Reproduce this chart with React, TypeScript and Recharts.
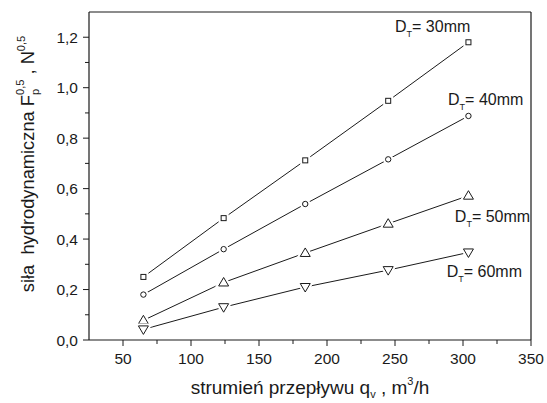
import { LineChart, Line, XAxis, YAxis, ReferenceLine, ReferenceDot, Label } from "recharts";

// strumień przepływu q_v, m3/h
const flow = [65, 124, 184, 245, 304];
// siła hydrodynamiczna F_p^0.5 for each D_T
const d30 = [0.25, 0.483, 0.712, 0.948, 1.18];
const d40 = [0.18, 0.36, 0.539, 0.716, 0.888];
const d50 = [0.078, 0.228, 0.345, 0.461, 0.572];
const d60 = [0.042, 0.13, 0.21, 0.277, 0.347];

const xTicks = [50, 75, 100, 125, 150, 175, 200, 225, 250, 275, 300, 325, 350];
const yTicks = [0, 0.1, 0.2, 0.3, 0.4, 0.5, 0.6, 0.7, 0.8, 0.9, 1.0, 1.1, 1.2];

const labelNames = ["30mm", "40mm", "50mm", "60mm"];
const labelX = [250, 289, 294, 288];
const labelY = [1.22, 0.93, 0.468, 0.25];

const data = flow.map((q, i) => ({ q, d30: d30[i], d40: d40[i], d50: d50[i], d60: d60[i] }));

const FONT = "Liberation Sans, Arial, sans-serif";
const INK = "#1a1a1a";

type Shape = "square" | "circle" | "up" | "down";

function drawShape(shape: Shape, cx: number, cy: number, stroke: string, sw: number) {
  if (shape === "square") return <rect x={cx - 2.5} y={cy - 2.5} width={5} height={5} fill="#fff" stroke={stroke} strokeWidth={sw} />;
  if (shape === "circle") return <circle cx={cx} cy={cy} r={2.7} fill="#fff" stroke={stroke} strokeWidth={sw} />;
  if (shape === "up") return <polygon points={`${cx},${cy - 5} ${cx + 5},${cy + 3.5} ${cx - 5},${cy + 3.5}`} fill="#fff" stroke={stroke} strokeWidth={sw} />;
  return <polygon points={`${cx},${cy + 5} ${cx + 5},${cy - 3.5} ${cx - 5},${cy - 3.5}`} fill="#fff" stroke={stroke} strokeWidth={sw} />;
}

const marker = (shape: Shape) => (p: any) => {
  const { cx, cy, index } = p;
  if (cx == null || cy == null) return <g key={index} />;
  return (
    <g key={`${shape}-${index}`}>
      {drawShape(shape, cx, cy, "#fff", 5)}
      {drawShape(shape, cx, cy, INK, 1)}
    </g>
  );
};

const fmt = (v: number) => v.toFixed(1).replace(".", ",");

const YTick = (p: any) => {
  const { x, y, payload } = p;
  const v = payload.value as number;
  const major = Math.round(v * 10) % 2 === 0;
  const ax = x + 6 + 5;
  return (
    <g>
      <line x1={ax} x2={ax - (major ? 6 : 4)} y1={y} y2={y} stroke={INK} strokeWidth={1} />
      {major && <text x={x} y={y + 5.5} textAnchor="end" fontSize={15.5} fill={INK} fontFamily={FONT}>{fmt(v)}</text>}
    </g>
  );
};

const XTick = (p: any) => {
  const { x, y, payload } = p;
  const v = payload.value as number;
  const major = v % 50 === 0;
  const ay = y - 6 - 5;
  return (
    <g>
      <line x1={x} x2={x} y1={ay} y2={ay + (major ? 6 : 4)} stroke={INK} strokeWidth={1} />
      {major && <text x={x} y={y + 13} textAnchor="middle" fontSize={15.5} fill={INK} fontFamily={FONT}>{v}</text>}
    </g>
  );
};

const YTitle = (p: any) => {
  const vb = p.viewBox;
  const cx = vb.x + 34;
  const cy = vb.y + vb.height / 2 - 12;
  return (
    <text x={cx} y={cy} transform={`rotate(-90 ${cx} ${cy})`} textAnchor="middle" fontSize={18.3} fill={INK} fontFamily={FONT}>
      {"siła\u00a0\u00a0hydrodynamiczna F"}
      <tspan fontSize={11} dy={5}>p</tspan>
      <tspan fontSize={11} dx={-6} dy={-15}>0,5</tspan>
      <tspan dy={10}>{"\u00a0,\u00a0N"}</tspan>
      <tspan fontSize={11} dy={-9}>0,5</tspan>
    </text>
  );
};

const XTitle = (p: any) => {
  const vb = p.viewBox;
  const cx = vb.x + vb.width / 2;
  const y = vb.y + 54;
  return (
    <text x={cx} y={y} textAnchor="middle" fontSize={19} fill={INK} fontFamily={FONT}>
      {"strumień przepływu q"}
      <tspan fontSize={11} dy={4}>v</tspan>
      <tspan dy={-4}>{"\u00a0,\u00a0m"}</tspan>
      <tspan fontSize={11} dy={-9}>3</tspan>
      <tspan dy={9}>/h</tspan>
    </text>
  );
};

const DLabel = (name: string) => (p: any) => {
  const { cx, cy } = p;
  return (
    <text x={cx} y={cy} fontSize={16} fill={INK} fontFamily={FONT}>
      D
      <tspan fontSize={9} dy={5}>T</tspan>
      <tspan dy={-5}>{`= ${name}`}</tspan>
    </text>
  );
};

const series: { key: string; shape: Shape }[] = [
  { key: "d30", shape: "square" },
  { key: "d40", shape: "circle" },
  { key: "d50", shape: "up" },
  { key: "d60", shape: "down" },
];

export default function App() {
  return (
    <div style={{ position: "fixed", left: 0, top: 0, width: 547, height: 403, background: "#fff" }}>
      <LineChart width={547} height={403} data={data} margin={{ top: 12, right: 16, bottom: 0, left: 0 }}>
        <XAxis
          dataKey="q"
          type="number"
          domain={[25, 350]}
          ticks={xTicks}
          interval={0}
          tickSize={6}
          tickMargin={5}
          tickLine={false}
          tick={<XTick />}
          height={63}
          axisLine={{ stroke: INK, strokeWidth: 1.2 }}
        >
          <Label content={<XTitle />} />
        </XAxis>
        <YAxis
          type="number"
          domain={[0, 1.3]}
          ticks={yTicks}
          interval={0}
          tickSize={6}
          tickMargin={5}
          tickLine={false}
          tick={<YTick />}
          width={89}
          axisLine={{ stroke: INK, strokeWidth: 1.2 }}
        >
          <Label content={<YTitle />} />
        </YAxis>
        <ReferenceLine y={1.3} stroke={INK} strokeWidth={1.2} />
        <ReferenceLine x={350} stroke={INK} strokeWidth={1.2} />
        {series.map(s => (
          <Line
            key={s.key}
            dataKey={s.key}
            type="linear"
            stroke={INK}
            strokeWidth={1}
            dot={marker(s.shape)}
            activeDot={false}
            isAnimationActive={false}
          />
        ))}
        {labelNames.map((n, i) => (
          <ReferenceDot key={n} x={labelX[i]} y={labelY[i]} r={0} shape={DLabel(n)} />
        ))}
      </LineChart>
    </div>
  );
}
